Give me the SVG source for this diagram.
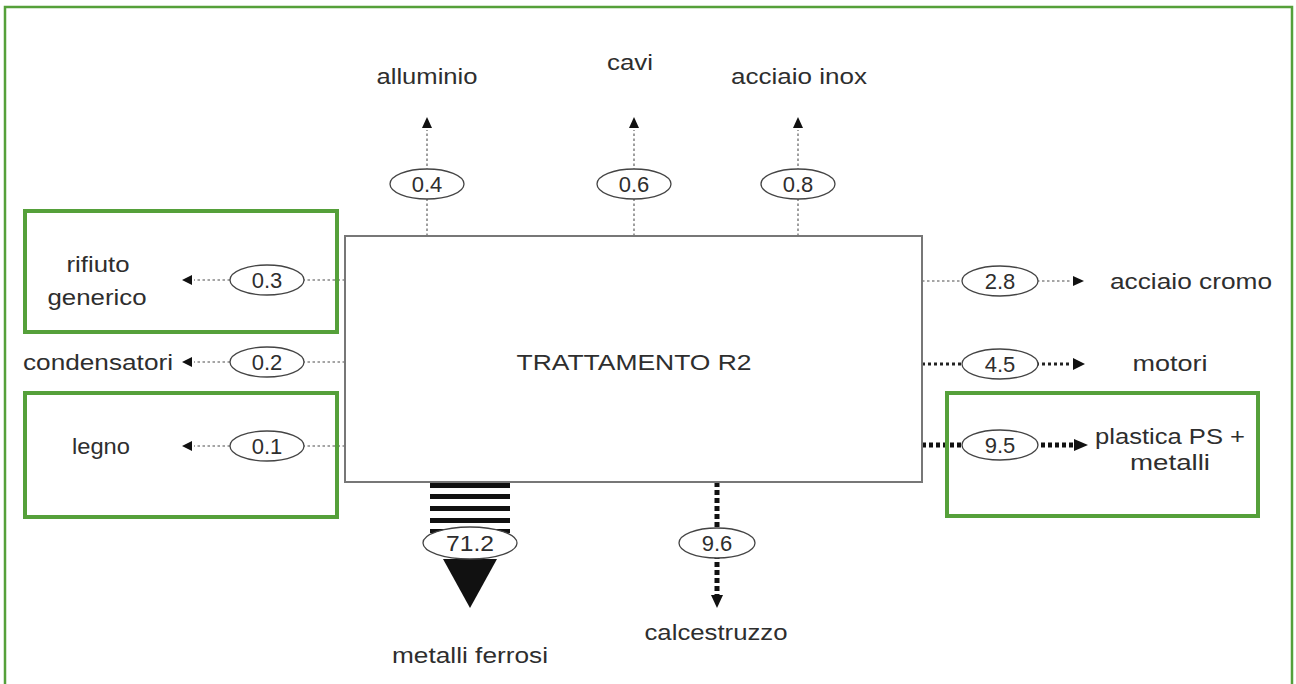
<svg xmlns="http://www.w3.org/2000/svg" width="1296" height="684" viewBox="0 0 1296 684">
<defs>
<style>
text{font-family:"Liberation Sans",Arial,sans-serif;font-size:22px;fill:#2e2e2e;text-anchor:middle;dominant-baseline:central}
.ell{fill:#fff;stroke:#444;stroke-width:1.3}
.thin{stroke:#888;stroke-width:1.6;stroke-dasharray:2.5 2.5;fill:none}
.mid{stroke:#222;stroke-width:3;stroke-dasharray:3 3;fill:none}
.thick{stroke:#111;stroke-width:5;stroke-dasharray:4 3;fill:none}
.vthick{stroke:#111;stroke-width:5;stroke-dasharray:5 3;fill:none}
.hd{fill:#111}
.green{fill:none;stroke:#55a03a;stroke-width:4}
</style>
</defs>
<rect width="1296" height="684" fill="#fff"/>
<path d="M5,690 V7 H1292 V690" fill="none" stroke="#55a03a" stroke-width="2.5"/>
<g id="connectors">
<line class="thin" x1="427" y1="236" x2="427" y2="130"/>
<polygon class="hd" points="427,117 422,128 432,128"/>
<line class="thin" x1="634" y1="236" x2="634" y2="130"/>
<polygon class="hd" points="634,117 629,128 639,128"/>
<line class="thin" x1="798" y1="236" x2="798" y2="130"/>
<polygon class="hd" points="798,117 793,128 803,128"/>
<line class="thin" x1="345" y1="280" x2="194" y2="280"/>
<polygon class="hd" points="182,280 192,275 192,285"/>
<line class="thin" x1="345" y1="362" x2="194" y2="362"/>
<polygon class="hd" points="182,362 192,357 192,367"/>
<line class="thin" x1="345" y1="446" x2="194" y2="446"/>
<polygon class="hd" points="182,446 192,441 192,451"/>
<line class="thin" x1="922" y1="281" x2="1072" y2="281"/>
<polygon class="hd" points="1084,281 1073,276 1073,286"/>
<line class="mid" x1="922" y1="364" x2="1072" y2="364"/>
<polygon class="hd" points="1085,364 1073,358 1073,370"/>
<line class="thick" x1="922" y1="445" x2="1074" y2="445"/>
<polygon class="hd" points="1088,445 1074,439 1074,451"/>
<line class="vthick" x1="717" y1="482" x2="717" y2="596"/>
<polygon class="hd" points="717,608 711,595 723,595"/>
<g fill="#111">
<rect x="430" y="483" width="80" height="5"/>
<rect x="430" y="494" width="80" height="5"/>
<rect x="430" y="506" width="80" height="5"/>
<rect x="430" y="518" width="80" height="5"/>
<rect x="430" y="529" width="80" height="4"/>
</g>
<polygon class="hd" points="443,559 497,559 470,608"/>
</g>
<g id="main">
<rect x="345" y="236" width="577" height="246" fill="#fff" stroke="#777" stroke-width="2"/>
<text x="634" y="362" textLength="235" lengthAdjust="spacingAndGlyphs">TRATTAMENTO R2</text>
</g>
<g id="e04"><ellipse class="ell" cx="427" cy="184" rx="37" ry="15"/><text x="427" y="184">0.4</text></g>
<g id="e06"><ellipse class="ell" cx="634" cy="184" rx="37" ry="15"/><text x="634" y="184">0.6</text></g>
<g id="e08"><ellipse class="ell" cx="798" cy="184" rx="37" ry="15"/><text x="798" y="184">0.8</text></g>
<g id="e03"><ellipse class="ell" cx="267" cy="280" rx="37" ry="15"/><text x="267" y="280">0.3</text></g>
<g id="e02"><ellipse class="ell" cx="267" cy="362" rx="37" ry="15"/><text x="267" y="362">0.2</text></g>
<g id="e01"><ellipse class="ell" cx="267" cy="446" rx="37" ry="15"/><text x="267" y="446">0.1</text></g>
<g id="e28"><ellipse class="ell" cx="1000" cy="281" rx="38" ry="15"/><text x="1000" y="281">2.8</text></g>
<g id="e45"><ellipse class="ell" cx="1000" cy="364" rx="38" ry="15"/><text x="1000" y="364">4.5</text></g>
<g id="e95"><ellipse class="ell" cx="1000" cy="445" rx="38" ry="15"/><text x="1000" y="445">9.5</text></g>
<g id="e712"><ellipse class="ell" cx="470" cy="543" rx="47" ry="16"/><text x="470" y="543" textLength="48" lengthAdjust="spacingAndGlyphs">71.2</text></g>
<g id="e96"><ellipse class="ell" cx="717" cy="543" rx="38" ry="15"/><text x="717" y="543">9.6</text></g>
<g id="alluminio"><text x="427" y="76" textLength="101" lengthAdjust="spacingAndGlyphs">alluminio</text></g>
<g id="cavi"><text x="630" y="62" textLength="46" lengthAdjust="spacingAndGlyphs">cavi</text></g>
<g id="inox"><text x="799" y="76" textLength="136" lengthAdjust="spacingAndGlyphs">acciaio inox</text></g>
<g id="rifiuto"><rect class="green" x="25" y="211" width="312" height="121"/><text x="98" y="264" textLength="63" lengthAdjust="spacingAndGlyphs">rifiuto</text><text x="97" y="297" textLength="99" lengthAdjust="spacingAndGlyphs">generico</text></g>
<g id="condensatori"><text x="98" y="362" textLength="150" lengthAdjust="spacingAndGlyphs">condensatori</text></g>
<g id="legno"><rect class="green" x="25" y="393" width="312" height="124"/><text x="101" y="446" textLength="58" lengthAdjust="spacingAndGlyphs">legno</text></g>
<g id="cromo"><text x="1191" y="281" textLength="162" lengthAdjust="spacingAndGlyphs">acciaio cromo</text></g>
<g id="motori"><text x="1170" y="363" textLength="75" lengthAdjust="spacingAndGlyphs">motori</text></g>
<g id="plastica"><rect class="green" x="947" y="393" width="311" height="123"/><text x="1170" y="436" textLength="150" lengthAdjust="spacingAndGlyphs">plastica PS +</text><text x="1170" y="462" textLength="80" lengthAdjust="spacingAndGlyphs">metalli</text></g>
<g id="ferrosi"><text x="470" y="655" textLength="156" lengthAdjust="spacingAndGlyphs">metalli ferrosi</text></g>
<g id="calcestruzzo"><text x="716" y="632" textLength="143" lengthAdjust="spacingAndGlyphs">calcestruzzo</text></g>
</svg>
